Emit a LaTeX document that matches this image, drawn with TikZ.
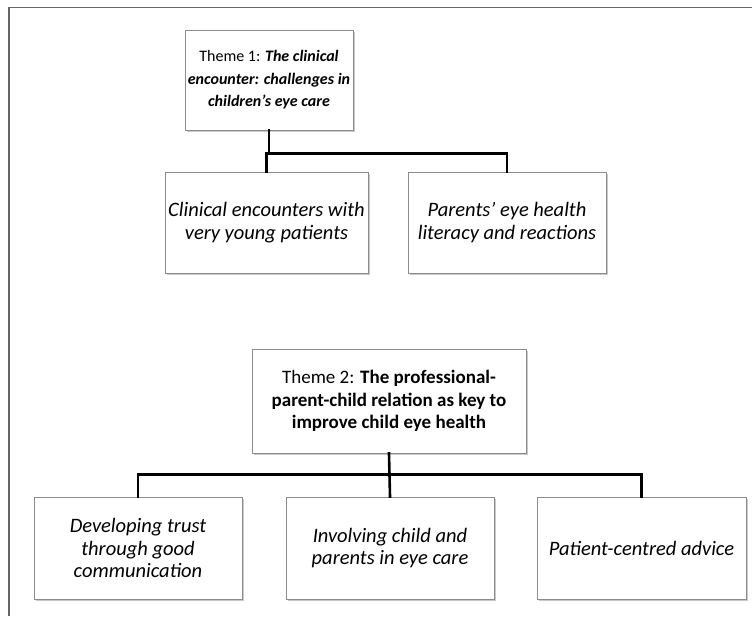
\documentclass[tikz,border=0pt]{standalone}
\usepackage{fontspec}
\setmainfont{Carlito}
\usetikzlibrary{shadows}

\begin{document}
\begin{tikzpicture}[x=1pt,y=-1pt,
  box/.style={shape=rectangle,draw=black!45,line width=0.8pt,fill=white,
    drop shadow={shadow xshift=2pt,shadow yshift=-2.2pt,opacity=0.3,fill=black!70},
    align=center,inner sep=2pt},
  themefont/.style={font=\fontsize{19}{22.5}\selectfont},
  subfont/.style={font=\fontsize{20.5}{22.5}\selectfont},
  link/.style={line width=2.6pt,line cap=rect}]
  \useasboundingbox (0,0) rectangle (752,616);
  \draw [black!60,line width=1.4pt] (9,616) -- (9,7.5) -- (752,7.5);

  \node (t1) at (269,80) [box,minimum width=168pt,minimum height=100pt,
    font=\fontsize{16}{22.5}\selectfont]
    {Theme 1: \textbf{\textit{The clinical}}\\\textbf{\textit{encounter: challenges in}}\\\textbf{\textit{children’s eye care}}} ;
  \node (s11) at (266.5,222.5) [box,subfont,minimum width=203pt,minimum height=101pt]
    {\textit{Clinical encounters with}\\\textit{very young patients}} ;
  \node (s12) at (507,222.5) [box,subfont,minimum width=198pt,minimum height=101pt]
    {\textit{Parents’ eye health}\\\textit{literacy and reactions}} ;

  \node (t2) at (389,401) [box,themefont,minimum width=274pt,minimum height=104pt]
    {Theme 2: \textbf{The professional-}\\\textbf{parent-child relation as key to}\\\textbf{improve child eye health}} ;
  \node (s21) at (138,548) [box,subfont,minimum width=208pt,minimum height=102pt]
    {\textit{Developing trust}\\\textit{through good}\\\textit{communication}} ;
  \node (s22) at (390,548) [box,subfont,minimum width=208pt,minimum height=102pt]
    {\textit{Involving child and}\\\textit{parents in eye care}} ;
  \node (s23) at (641.5,548) [box,subfont,minimum width=209pt,minimum height=102pt]
    {\textit{Patient-centred advice}} ;

  \draw [link] (t1.south) -- ++(0,23) -| (s11.north);
  \draw [link] (t1.south) -- ++(0,23) -| (s12.north);

  \draw [link] (t2.south) -- ++(0,21) -| (s21.north);
  \draw [link] (t2.south) -- (s22.north);
  \draw [link] (t2.south) -- ++(0,21) -| (s23.north);
\end{tikzpicture}
\end{document}
